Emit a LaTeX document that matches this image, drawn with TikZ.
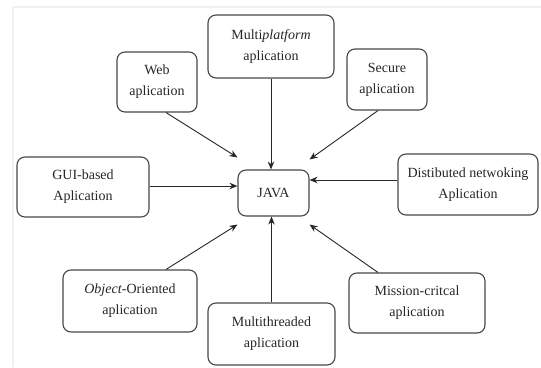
\documentclass[tikz,border=0pt]{standalone}
\usepackage{fontspec}
\setmainfont{Liberation Serif}
\usetikzlibrary{arrows.meta}
\begin{document}
\begin{tikzpicture}[x=1pt,y=-1pt,
  box/.style={draw=black!72, line width=1.1pt, rounded corners=8pt, fill=white,
    align=center, inner sep=0pt, text=black!85,
    font=\fontsize{14}{21}\selectfont},
  conn/.style={draw=black!85, line width=0.9pt, -{Stealth[length=8pt,width=6.5pt]}},
  frame/.style={draw=black!6, line width=2pt}]
\useasboundingbox (0,0) rectangle (541,367);
\draw[frame] (13,367) -- (13,7) -- (541,7);
\node[box, minimum width=126pt, minimum height=63pt] (mp) at (271,46.5) {Multi\textit{platform}\\aplication};
\node[box, minimum width=80pt, minimum height=60pt] (web) at (157,82) {Web\\aplication};
\node[box, minimum width=80pt, minimum height=61pt] (sec) at (387,79.5) {Secure\\aplication};
\node[box, minimum width=132pt, minimum height=60pt] (gui) at (83,187) {GUI-based\\Aplication};
\node[box, minimum width=71pt, minimum height=46pt] (java) at (273.5,193) {JAVA};
\node[box, minimum width=140pt, minimum height=61pt] (dist) at (468,184.5) {Distibuted netwoking\\Aplication};
\node[box, minimum width=134pt, minimum height=62pt] (obj) at (130,301) {\textit{Object}-Oriented\\aplication};
\node[box, minimum width=127pt, minimum height=62pt] (mt) at (271.5,334) {Multithreaded\\aplication};
\node[box, minimum width=136pt, minimum height=60pt] (mc) at (417,303) {Mission-critcal\\aplication};
\draw[conn] ([xshift=9pt]web.south) -- ([yshift=12pt]java.north west);
\draw[conn] (mp.south) -- (mp.south |- java.north);
\draw[conn] ([xshift=-9pt]sec.south) -- ([yshift=10pt]java.north east);
\draw[conn] ([yshift=1pt]gui.east) -- ([yshift=1pt]gui.east -| java.west);
\draw[conn] ([yshift=4.5pt]dist.west) -- ([yshift=4.5pt]dist.west -| java.east);
\draw[conn] ([xshift=36pt]obj.north) -- ([yshift=-8pt]java.south west);
\draw[conn] (mt.north) -- (mt.north |- java.south);
\draw[conn] ([xshift=-39pt]mc.north) -- ([yshift=-8pt]java.south east);
\end{tikzpicture}
\end{document}
